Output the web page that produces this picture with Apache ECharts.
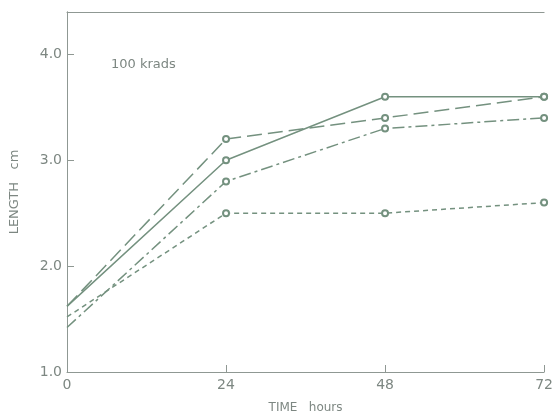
<!DOCTYPE html>
<html><head><meta charset="utf-8">
<script src="https://cdn.jsdelivr.net/npm/echarts@6/dist/echarts.min.js"></script>
<style>html,body{margin:0;padding:0;background:#fff}#c{width:556px;height:419px}</style>
</head><body><div id="c"></div>
<script>
const hours = [0, 24, 48, 72];
const longDash = [1.62, 3.2, 3.4, 3.6];
const solid = [1.62, 3.0, 3.6, 3.6];
const dashDot = [1.42, 2.8, 3.3, 3.4];
const shortDash = [1.52, 2.5, 2.5, 2.6];
const yTicks = [1.0, 2.0, 3.0, 4.0];

const lineColor = '#74917f';
const axisColor = '#8f9893';
const textColor = '#7d8782';
const font = 'DejaVu Sans';

function mk(name, vals, type) {
  return {
    name: name, type: 'line', xAxisIndex: 0, yAxisIndex: 0,
    data: hours.map((h, i) => [h, vals[i]]),
    symbol: (v, p) => p.dataIndex === 0 ? 'none' : 'emptyCircle',
    symbolSize: 6,
    itemStyle: { color: lineColor, borderWidth: 1 },
    lineStyle: { color: lineColor, width: 1.5, type: type },
    silent: true, animation: false, z: 3
  };
}

const chart = echarts.init(document.getElementById('c'), null, { renderer: 'canvas' });
chart.setOption({
  animation: false,
  backgroundColor: '#fff',
  title: { text: '100 krads', left: 106, top: 53,
    textStyle: { color: textColor, fontSize: 13, fontWeight: 'normal', fontFamily: font } },
  grid: { left: 67, right: 11, top: 12, bottom: 46 },
  xAxis: [{
    type: 'value', min: 0, max: 72, interval: 24,
    name: 'TIME   hours', nameLocation: 'middle', nameGap: 30,
    nameTextStyle: { color: textColor, fontSize: 12, fontFamily: font },
    axisLine: { lineStyle: { color: axisColor, width: 1 } },
    axisTick: { inside: true, length: 7, lineStyle: { color: axisColor } },
    axisLabel: { color: textColor, fontSize: 14, fontFamily: font, margin: 6,
      formatter: v => String(v) },
    splitLine: { show: false }
  }, {
    type: 'value', position: 'top', min: 0, max: 72,
    axisLine: { show: true, onZero: false, lineStyle: { color: axisColor, width: 1 } },
    axisTick: { show: false }, axisLabel: { show: false }, splitLine: { show: false }
  }],
  yAxis: [{
    type: 'value', min: 1, max: 4.4, interval: 1,
    name: 'LENGTH   cm', nameLocation: 'middle', nameGap: 46, nameRotate: 90,
    nameTextStyle: { color: textColor, fontSize: 13, fontFamily: font },
    axisLine: { show: true, lineStyle: { color: axisColor, width: 1 } },
    axisTick: { inside: true, length: 7, lineStyle: { color: axisColor } },
    axisLabel: { color: textColor, fontSize: 14, fontFamily: font, margin: 5,
      showMaxLabel: false,
      formatter: v => yTicks.indexOf(v) >= 0 ? v.toFixed(1) : '' },
    splitLine: { show: false }
  }, {
    type: 'value', position: 'right', min: 1, max: 4.4,
    axisLine: { show: true, lineStyle: { color: axisColor, width: 1 } },
    axisTick: { show: false }, axisLabel: { show: false }, splitLine: { show: false }
  }],
  series: [
    mk('a', longDash, [15, 6]),
    mk('b', solid, 'solid'),
    mk('c', dashDot, [12, 4, 3, 4]),
    mk('d', shortDash, [5, 4])
  ]
});
</script></body></html>
